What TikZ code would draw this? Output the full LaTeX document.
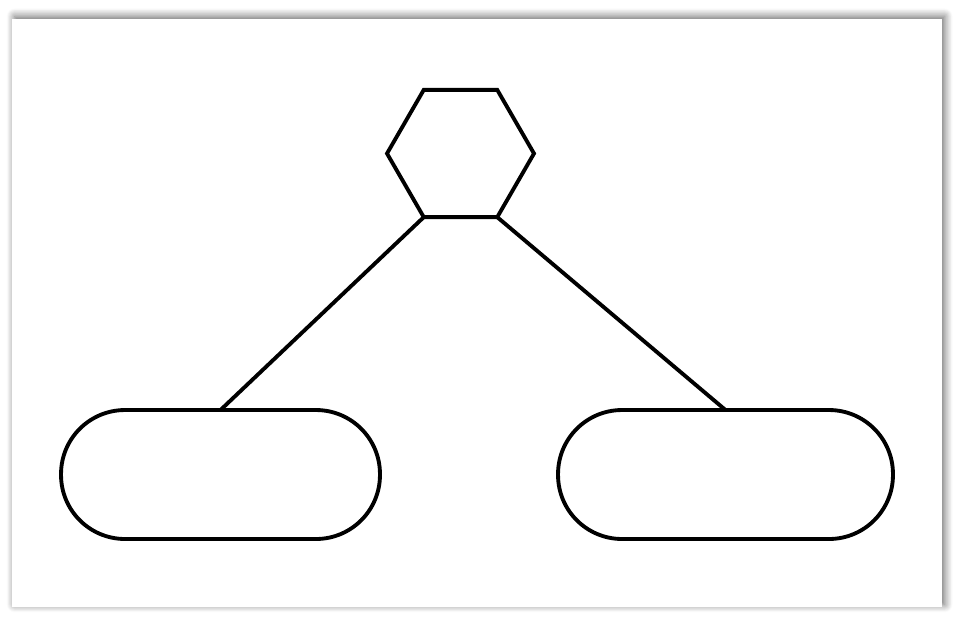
\documentclass[tikz,border=0pt]{standalone}
\usepackage{tikz}
\usetikzlibrary{positioning,shapes.geometric,shadows.blur}

\tikzset{
  hexnode/.style={regular polygon, regular polygon sides=6, draw, line width=2.2pt,
    minimum size=2.94cm, inner sep=0pt, outer sep=0pt},
  leafbox/.style={rectangle, rounded corners=1.28cm, draw, line width=2.2pt,
    minimum height=2.58cm, inner sep=0pt, outer sep=0pt},
  edge/.style={line width=2.2pt}
}

\begin{document}
\begin{tikzpicture}[x=0.02cm, y=-0.02cm]
\useasboundingbox (0,0) rectangle (962,623);
\fill[white, blur shadow={shadow xshift=1.5pt, shadow yshift=1.5pt,
  shadow blur radius=4.5pt, shadow opacity=60, shadow blur steps=10}] (12,19) rectangle (942,607);

\node[hexnode] (hex) at (460.5,153.5) {};
\node[leafbox, minimum width=6.38cm] (left) at (220.5,474.5) {};
\node[leafbox, minimum width=6.7cm] (right) at (725.5,474.5) {};

\draw[edge] (hex.240) -- (left.north);
\draw[edge] (hex.300) -- (right.north);
\end{tikzpicture}
\end{document}
